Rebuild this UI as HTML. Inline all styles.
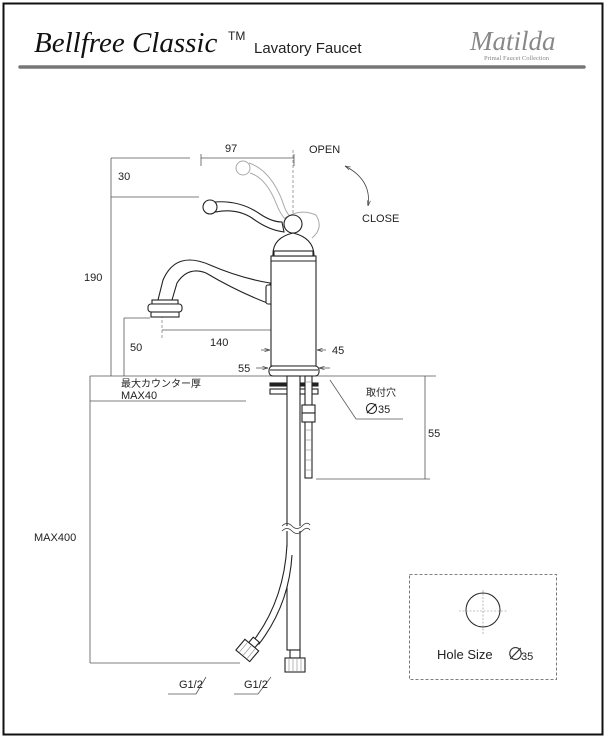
<!DOCTYPE html>
<html><head><meta charset="utf-8"><style>
html,body{margin:0;padding:0;background:#fff;}
svg{display:block;}
text{font-family:"Liberation Sans","Noto Sans CJK JP",sans-serif;fill:#222;}
</style></head><body>
<svg width="606" height="738" viewBox="0 0 606 738" xmlns="http://www.w3.org/2000/svg">
<defs>
<marker id="ar" viewBox="0 0 10 10" refX="10" refY="5" markerWidth="7" markerHeight="7" orient="auto-start-reverse"><path d="M0,2 L10,5 L0,8" fill="none" stroke="#444" stroke-width="1.2"/></marker>
</defs>
<rect x="3.5" y="3.5" width="599" height="731" fill="none" stroke="#111" stroke-width="2"/>
<!-- header -->
<text x="34" y="52" style="font-family:'Liberation Serif',serif;font-style:italic;font-size:29px;fill:#111">Bellfree Classic</text>
<text x="228" y="40" style="font-size:12px">TM</text>
<text x="254" y="53" style="font-size:15px">Lavatory Faucet</text>
<text x="470" y="50" style="font-family:'Liberation Serif',serif;font-style:italic;font-size:27px;fill:#888">Matilda</text>
<text x="484" y="60" style="font-family:'Liberation Serif',serif;font-size:6.5px;fill:#888">Primal Faucet Collection</text>
<line x1="20" y1="67" x2="584" y2="67" stroke="#777" stroke-width="3.5" stroke-linecap="round"/>

<g fill="none" stroke="#555" stroke-width="0.8">
<line x1="111" y1="158" x2="190" y2="158"/>
<line x1="111" y1="197" x2="199" y2="197"/>
<line x1="111" y1="158" x2="111" y2="376"/>
<line x1="201" y1="158" x2="294" y2="158"/>
<line x1="201" y1="154" x2="201" y2="166"/>
<line x1="294" y1="154" x2="294" y2="166"/>
<line x1="162" y1="330" x2="293" y2="330"/>
<line x1="124" y1="318" x2="150" y2="318"/>
<line x1="124" y1="318" x2="124" y2="376"/>
<line x1="90" y1="376" x2="436" y2="376"/>
<line x1="90" y1="376" x2="90" y2="663"/>
<line x1="90" y1="663" x2="240" y2="663"/>
<line x1="90" y1="401" x2="246" y2="401"/>
<line x1="425" y1="376" x2="425" y2="479"/>
<line x1="316" y1="479" x2="430" y2="479"/>
<polyline points="330,380 356,419 403,419"/>
<polyline points="168,694 196,694 206,677"/>
<polyline points="234,694 258,694 271,677"/>
</g>
<g stroke="#555" stroke-width="0.8" marker-end="url(#ar)">
<line x1="261" y1="350" x2="270" y2="350"/>
<line x1="326" y1="350" x2="317" y2="350"/>
<line x1="256" y1="368" x2="268" y2="368"/>
<line x1="330" y1="368" x2="319" y2="368"/>
</g>
<path d="M345,166 Q372,180 368,206" fill="none" stroke="#444" stroke-width="0.8" marker-end="url(#ar)" marker-start="url(#ar)"/>
<line x1="293" y1="150" x2="293" y2="376" stroke="#777" stroke-width="0.7" stroke-dasharray="3,2"/>
<line x1="162" y1="290" x2="162" y2="340" stroke="#777" stroke-width="0.7" stroke-dasharray="3,2"/>

<g fill="none" stroke="#aaa" stroke-width="1">
<circle cx="243" cy="168" r="7"/>
<path d="M249,163 Q270,170 282,200 Q286,214 292,218"/>
<path d="M250,173 Q266,178 276,203 Q280,214 286,220"/>
<path d="M285,218 Q300,208 316,215 Q324,228 312,238"/>
</g>
<g fill="#fff" stroke="#222" stroke-width="1.1">
<path d="M270,283 Q240,278 210,265 Q176,250 163,280 L158,300 L172,300 L177,283 Q188,266 206,273 Q238,292 270,304 Z"/>
<rect x="266" y="285" width="6" height="19" rx="2"/>
<rect x="152" y="300" width="26" height="4"/>
<rect x="148" y="304" width="34" height="8" rx="3"/>
<rect x="151" y="312" width="28" height="5"/>
<rect x="271" y="256" width="45" height="110"/>
<line x1="271" y1="261" x2="316" y2="261"/>
<path d="M273,256 Q272,238 293,233 Q314,238 314,256 Z"/>
<rect x="274" y="251" width="39" height="5"/>
<path d="M214,202 Q240,200 260,214 Q272,222 282,222 L284,232 Q268,230 252,218 Q236,208 216,212 Z"/>
<circle cx="210" cy="207" r="7"/>
<circle cx="293" cy="224" r="9"/>
<rect x="269" y="366" width="50" height="10" rx="4"/>
<line x1="270" y1="370" x2="318" y2="370"/>
<rect x="270" y="383" width="48" height="3" fill="#222"/>
<rect x="270" y="389" width="48" height="5"/>
<rect x="287" y="376" width="13" height="274"/>
<rect x="305" y="376" width="7" height="102"/>
<rect x="302" y="405" width="13" height="8"/>
<rect x="302" y="413" width="13" height="9"/>
<rect x="290" y="650" width="10" height="8"/>
<rect x="285" y="658" width="20" height="14"/>
<path d="M287,545 Q284,600 254,640 L259,644 Q289,605 292,555"/>
<g transform="rotate(40 246 652)">
<rect x="242" y="636" width="8" height="7"/>
<rect x="237" y="643" width="18" height="14"/>
<line x1="241" y1="644" x2="241" y2="656" stroke="#888" stroke-width="0.6"/>
<line x1="246" y1="644" x2="246" y2="656" stroke="#888" stroke-width="0.6"/>
<line x1="251" y1="644" x2="251" y2="656" stroke="#888" stroke-width="0.6"/>
</g>
</g>
<g stroke="#888" stroke-width="0.6">
<line x1="306" y1="382" x2="311" y2="382"/><line x1="306" y1="430" x2="311" y2="430"/><line x1="306" y1="440" x2="311" y2="440"/><line x1="306" y1="450" x2="311" y2="450"/><line x1="306" y1="460" x2="311" y2="460"/><line x1="306" y1="470" x2="311" y2="470"/>
<line x1="289" y1="659" x2="289" y2="671"/><line x1="293" y1="659" x2="293" y2="671"/><line x1="297" y1="659" x2="297" y2="671"/><line x1="301" y1="659" x2="301" y2="671"/>
</g>
<rect x="282" y="526" width="26" height="5" fill="#fff"/>
<path d="M282,526 Q287,521 292,526 T302,526 T310,525 M282,531 Q287,526 292,531 T302,531 T310,530" fill="none" stroke="#333" stroke-width="0.8"/>

<rect x="409.5" y="574.5" width="147" height="105" fill="none" stroke="#555" stroke-width="0.8" stroke-dasharray="3,2"/>
<circle cx="483" cy="610" r="17" fill="none" stroke="#222" stroke-width="1"/>
<line x1="459" y1="611" x2="507" y2="611" stroke="#888" stroke-width="0.6" stroke-dasharray="2,1.5"/>
<line x1="483" y1="590" x2="483" y2="634" stroke="#888" stroke-width="0.6" stroke-dasharray="2,1.5"/>
<text x="437" y="659" style="font-size:13px">Hole Size</text>
<text x="507" y="660" style="font-size:17px;fill:#333">∅</text><text x="521" y="660" style="font-size:11px">35</text>

<g style="font-size:11px">
<text x="309" y="153">OPEN</text>
<text x="362" y="222">CLOSE</text>
<text x="225" y="152">97</text>
<text x="118" y="180">30</text>
<text x="84" y="281">190</text>
<text x="210" y="346">140</text>
<text x="130" y="351">50</text>
<text x="332" y="354">45</text>
<text x="238" y="372">55</text>
<text x="428" y="437">55</text>
<text x="366" y="396" style="font-size:10px">取付穴</text>
<text x="364" y="414" style="font-size:15px">∅</text><text x="378" y="413">35</text>
<text x="121" y="387" style="font-size:10px">最大カウンター厚</text>
<text x="121" y="399">MAX40</text>
<text x="34" y="541">MAX400</text>
<text x="179" y="688">G1/2</text>
<text x="244" y="688">G1/2</text>
</g>
</svg>
</body></html>
